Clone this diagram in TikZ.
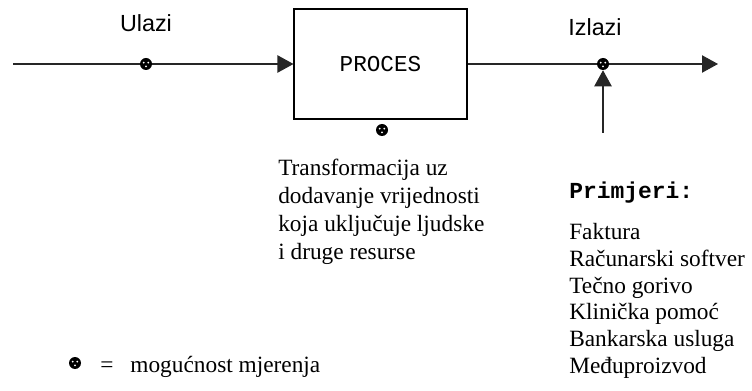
\documentclass[tikz,border=0pt]{standalone}
\usepackage{fontspec}
\setmainfont{Liberation Serif}
\setsansfont{Liberation Sans}
\setmonofont{Liberation Mono}
\usepackage{tikz}
\usetikzlibrary{arrows.meta,calc,positioning}
\tikzset{
    >={Triangle[length=12pt,width=13pt]},
    tocka/.style={
           circle,
           fill=black,
           minimum size=9pt,
           inner sep=0pt,
           path picture={
             \fill[white] ($(path picture bounding box.center)+(-1.7pt,1pt)$) circle (0.75pt);
             \fill[white] ($(path picture bounding box.center)+(1.7pt,1pt)$) circle (0.75pt);
             \fill[white] ($(path picture bounding box.center)+(0pt,-1.8pt)$) circle (0.75pt);}},
    pil/.style={
           ->,
           line width=0.8pt,
           draw=black!85},
    oznaka/.style={
           font=\sffamily\fontsize{17.5pt}{21pt}\selectfont,
           inner sep=0pt,
           anchor=base},
    tekst/.style={
           font=\fontsize{17.5pt}{21pt}\selectfont,
           align=left,
           inner sep=0pt}
}
\begin{document}
\begin{tikzpicture}[x=0.75pt,y=-0.75pt]
          \useasboundingbox (0,0) rectangle (752,391);
          % proces
          \node[draw, line width=0.8pt, minimum width=129.75pt, minimum height=82.5pt,
                font=\ttfamily\fontsize{17pt}{20pt}\selectfont](proc) at (380.5,64) {PROCES};
          \coordinate (ulaz) at (13,64);
          \coordinate (izlaz) at (718,64);
          \coordinate (dno) at (603,133);
          % linije
          \draw[pil] (ulaz) -- (proc.west);
          \draw[pil] (proc.east) -- (izlaz);
          % tocke mjerenja
          \node[tocka](tul) at (146,64) {};
          \node[tocka](tiz) at (603,64) {};
          \node[tocka](tpr) at (382,130) {};
          \node[tocka](tleg) at (75,363) {};
          \draw[pil] (dno) -- (tiz.south);
          % oznake
          \node[oznaka](lul) at (146,32) {Ulazi};
          \node[oznaka](liz) at (595,36) {Izlazi};
          \node[tekst, anchor=north west](trans) at (278,158.5) {Transformacija uz\\dodavanje vrijednosti\\koja uključuje ljudske\\i druge resurse};
          \node[font=\ttfamily\bfseries\fontsize{17.2pt}{20pt}\selectfont, inner sep=0pt, anchor=base west](prim) at (569,199) {Primjeri:};
          \node[tekst, font=\fontsize{17.5pt}{20pt}\selectfont, anchor=north west](lista) at (569,223.5) {Faktura\\Računarski softver\\Tečno gorivo\\Klinička pomoć\\Bankarska usluga\\Međuproizvod};
          \node[tekst, anchor=base west](leg) at (100,372) {=\hspace{12.75pt}mogućnost mjerenja};
\end{tikzpicture}
\end{document}
